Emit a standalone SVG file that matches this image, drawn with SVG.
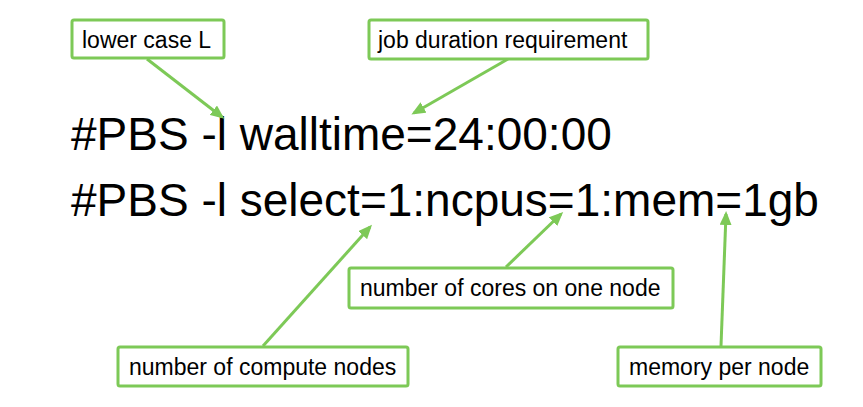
<svg xmlns="http://www.w3.org/2000/svg" width="863" height="407" viewBox="0 0 863 407">
  <defs>
    <marker id="ah" markerUnits="userSpaceOnUse" markerWidth="14" markerHeight="12" viewBox="0 0 14 12" refX="11" refY="6" orient="auto">
      <path d="M0,0 L14,6 L0,12 z" fill="#7dc957"/>
    </marker>
    <style>
      .box { fill: #ffffff; stroke: #7dc957; stroke-width: 3; }
      .lbl { font-family: "Liberation Sans", Arial, sans-serif; font-size: 23px; fill: #000000; }
      .code { font-family: "Liberation Sans", Arial, sans-serif; font-size: 46px; fill: #000000; }
      .conn { stroke: #7dc957; stroke-width: 3; fill: none; marker-end: url(#ah); }
    </style>
  </defs>
  <rect width="863" height="407" fill="#ffffff"/>

  <g id="code">
    <text class="code" x="71" y="150">#PBS -l walltime=24:00:00</text>
    <text class="code" x="71" y="216">#PBS -l select=1:ncpus=1:mem=1gb</text>
  </g>

  <g id="connectors">
    <line class="conn" x1="147" y1="59" x2="222" y2="117"/>
    <line class="conn" x1="508" y1="59" x2="414" y2="113"/>
    <line class="conn" x1="263" y1="346" x2="370" y2="227"/>
    <line class="conn" x1="506" y1="267" x2="561" y2="214"/>
    <line class="conn" x1="721" y1="346" x2="726" y2="214"/>
  </g>

  <g id="node-lower-case">
    <rect class="box" x="72" y="20" width="152" height="38" rx="2"/>
    <text class="lbl" x="82" y="48">lower case L</text>
  </g>
  <g id="node-job-duration">
    <rect class="box" x="369" y="20" width="279" height="39" rx="2"/>
    <text class="lbl" x="378" y="48">job duration requirement</text>
  </g>
  <g id="node-cores">
    <rect class="box" x="349" y="268" width="324" height="40" rx="2"/>
    <text class="lbl" x="360" y="296">number of cores on one node</text>
  </g>
  <g id="node-compute-nodes">
    <rect class="box" x="118" y="347" width="290" height="39" rx="2"/>
    <text class="lbl" x="129" y="375">number of compute nodes</text>
  </g>
  <g id="node-memory">
    <rect class="box" x="618" y="347" width="203" height="39" rx="2"/>
    <text class="lbl" x="629" y="375">memory per node</text>
  </g>
</svg>
